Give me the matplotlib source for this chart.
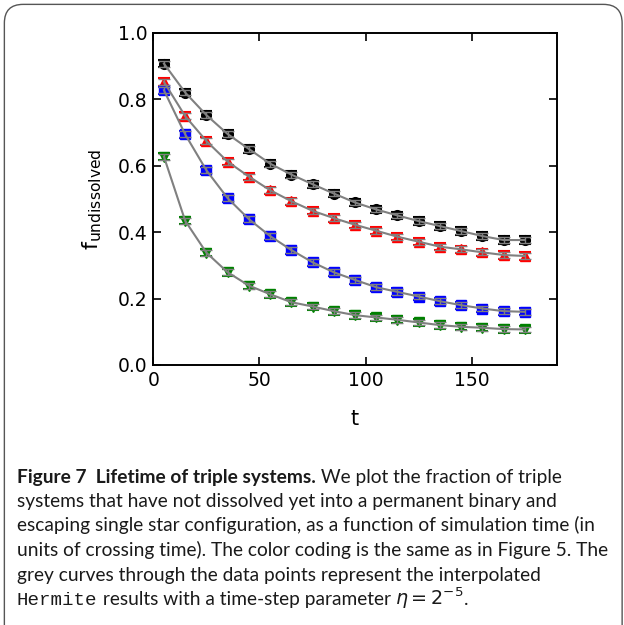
import numpy as np
import matplotlib
matplotlib.use("Agg")
import matplotlib.pyplot as plt
from matplotlib.patches import FancyBboxPatch

# time in crossing times
t = [5, 15, 25, 35, 45, 55, 65, 75, 85, 95, 105, 115, 125, 135, 145, 155, 165, 175]

f_black = [0.907, 0.820, 0.752, 0.695, 0.650, 0.606, 0.573, 0.544, 0.516, 0.489,
           0.468, 0.450, 0.433, 0.418, 0.403, 0.388, 0.376, 0.376]
f_red = [0.852, 0.749, 0.674, 0.612, 0.567, 0.526, 0.493, 0.464, 0.442, 0.422,
         0.404, 0.386, 0.371, 0.356, 0.348, 0.339, 0.331, 0.328]
f_blue = [0.827, 0.694, 0.586, 0.502, 0.439, 0.388, 0.346, 0.309, 0.279, 0.256,
          0.234, 0.220, 0.206, 0.192, 0.180, 0.170, 0.162, 0.160]
f_green = [0.627, 0.434, 0.338, 0.279, 0.239, 0.213, 0.189, 0.176, 0.162, 0.150,
           0.143, 0.136, 0.128, 0.120, 0.115, 0.112, 0.108, 0.107]
f_err = 0.011

series = [(f_black, 'black', 'o'), (f_red, 'red', '^'),
          (f_blue, 'blue', 's'), (f_green, 'green', 'v')]

fig = plt.figure(figsize=(6.24, 6.25), dpi=100)

# card border
fig.patches.append(FancyBboxPatch((0.007, -0.05), 0.99, 1.043,
                                  boxstyle="round,pad=0,rounding_size=0.03",
                                  transform=fig.transFigure, fc='none',
                                  ec='#555555', lw=1.0))

ax = fig.add_axes([0.2457, 0.416, 0.6465, 0.5317])
for vals, col, mk in series:
    ax.errorbar(t, vals, yerr=f_err, fmt=mk, color=col, mec=col, ms=7,
                capsize=4.5, elinewidth=1.2, capthick=1.5, zorder=2)
    ax.errorbar(t, vals, yerr=f_err * 0.8, fmt='-', color='grey', lw=1.5,
                capsize=4.5, elinewidth=1.0, capthick=1.0, zorder=3)

ax.set_xlim(0, 190)
ax.set_ylim(0, 1.0)
ax.set_xticks([0, 50, 100, 150])
ax.set_yticks([0.0, 0.2, 0.4, 0.6, 0.8, 1.0])
ax.set_yticklabels(['0.0', '0.2', '0.4', '0.6', '0.8', '1.0'])
ax.tick_params(direction='in', top=True, right=True, length=6, width=1.2,
               labelsize=13.5, pad=4)
for s in ax.spines.values():
    s.set_linewidth(1.4)
ax.set_xlabel('t', fontsize=15, labelpad=14)
ax.set_ylabel(r'$\mathregular{f_{undissolved}}$', fontsize=16, labelpad=10)

# caption
lines = [
    [("Figure 7  Lifetime of triple systems.", 'bold'),
     (" We plot the fraction of triple", 'reg')],
    [("systems that have not dissolved yet into a permanent binary and", 'reg')],
    [("escaping single star configuration, as a function of simulation time (in", 'reg')],
    [("units of crossing time). The color coding is the same as in Figure 5. The", 'reg')],
    [("grey curves through the data points represent the interpolated", 'reg')],
    [("Hermite", 'mono'), (" results with a time-step parameter ", 'reg'),
     (r"$\eta = 2^{-5}$", 'reg'), (".", 'reg')],
]

renderer = fig.canvas.get_renderer()


def styles(size):
    return {'reg': dict(family='Lato', fontsize=size, color='#1a1a1a'),
            'bold': dict(family='Lato', fontsize=size, weight='bold', color='#1a1a1a'),
            'mono': dict(family='Liberation Mono', fontsize=size, color='#1a1a1a')}


# fit the caption width to the reference (line 4 spans ~593 px)
probe = fig.text(0, 0, lines[3][0][0], **styles(10)['reg'])
w10 = probe.get_window_extent(renderer).width
probe.remove()
st = styles(10 * 593 / w10)

y0 = 1 - 482.5 / 625
dy = 24.5 / 625
for i, parts in enumerate(lines):
    x = 17 / 624
    for txt, key in parts:
        tx = fig.text(x, y0 - i * dy, txt, va='baseline', ha='left', **st[key])
        bb = tx.get_window_extent(renderer)
        x += bb.width / 624

fig.savefig('out.png', dpi=100)
